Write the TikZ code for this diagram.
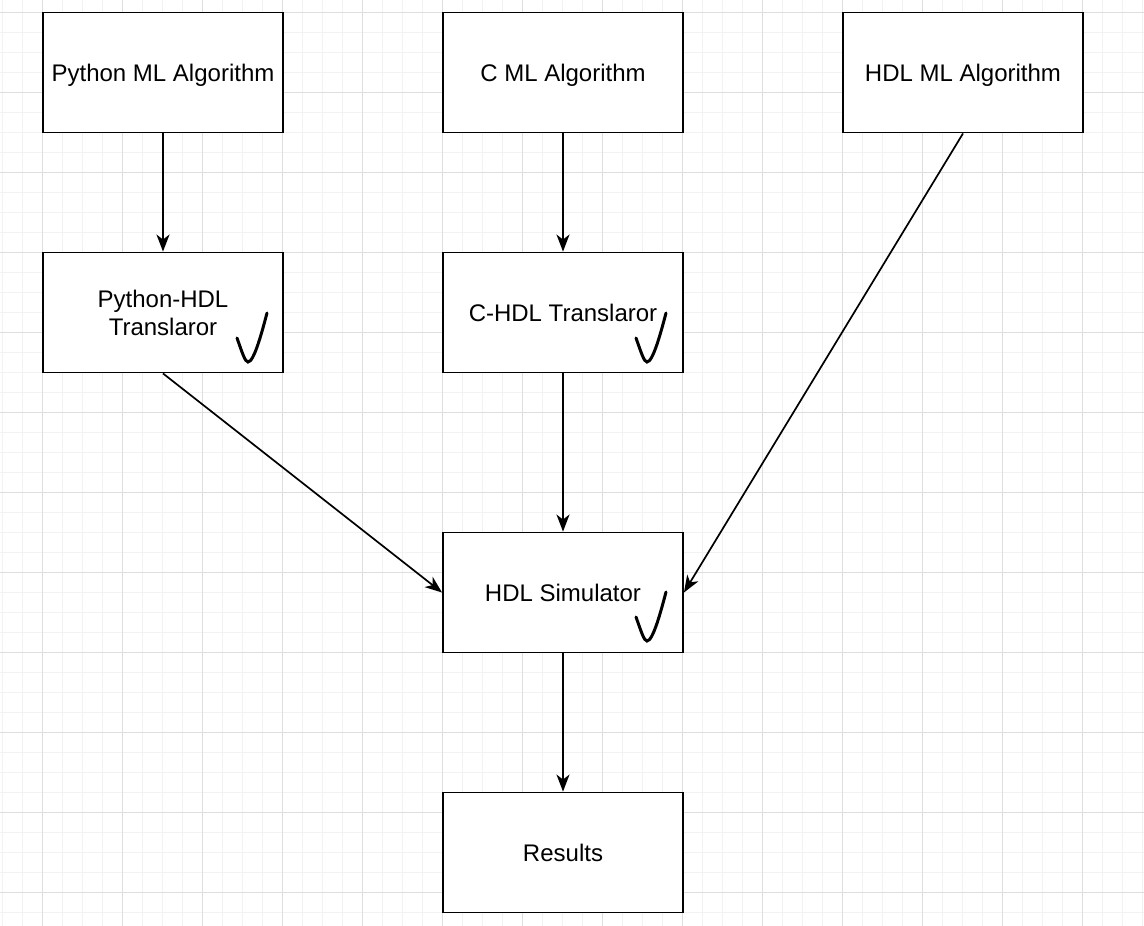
\documentclass[tikz,border=0pt]{standalone}
\usepackage{fontspec}
\setmainfont{Liberation Sans}
\usetikzlibrary{arrows.meta}

\tikzset{
  block/.style={draw, line width=1.9pt, fill=white, minimum width=240pt, minimum height=120pt,
    align=center, font=\fontsize{24}{28}\selectfont, inner sep=0pt, text depth=-2pt},
  flow/.style={line width=1.7pt, -{Stealth[length=17pt, width=13pt, inset=5pt]}},
  okmark/.pic={
    \draw [line width=3pt, line cap=round] (-11,-24) .. controls (-6,-10) and (-3,0) .. (0,0)
      .. controls (6,0) and (14,-30) .. (19,-49);
  }
}

\begin{document}
\begin{tikzpicture}[x=1pt, y=-1pt]
        \useasboundingbox (0,0) rectangle (1144,926);
        \fill [white] (0,0) rectangle (1144,926);

        % grid
        \foreach \gx in {2,22,...,1142} \draw [line width=0.8pt, black!5] (\gx,0) -- (\gx,926);
        \foreach \gy in {12,32,...,926} \draw [line width=0.8pt, black!5] (0,\gy) -- (1144,\gy);
        \foreach \gx in {42,122,...,1142} \draw [line width=0.8pt, black!13] (\gx,0) -- (\gx,926);
        \foreach \gy in {12,92,...,926} \draw [line width=0.8pt, black!13] (0,\gy) -- (1144,\gy);

        \node [block] (pyalg) at (163,72.5) {Python ML Algorithm};
        \node [block] (calg) at (563,72.5) {C ML Algorithm};
        \node [block] (hdlalg) at (963,72.5) {HDL ML Algorithm};

        \node [block] (pytrans) at (163,312.5) {Python-HDL\\Translaror};
        \node [block] (ctrans) at (563,312.5) {C-HDL Translaror};

        \node [block] (sim) at (563,592.5) {HDL Simulator};
        \node [block] (res) at (563,852.5) {Results};

        \draw [flow] (pyalg) -- (pytrans);
        \draw [flow] (calg) -- (ctrans);
        \draw [flow] (pytrans.south) -- (sim.west);
        \draw [flow] (ctrans) -- (sim);
        \draw [flow] (hdlalg.south) -- (sim.east);
        \draw [flow] (sim) -- (res);

        % ticks
        \pic at (248,362) {okmark};
        \pic at (647,362) {okmark};
        \pic at (647,641) {okmark};
    \end{tikzpicture}
\end{document}
